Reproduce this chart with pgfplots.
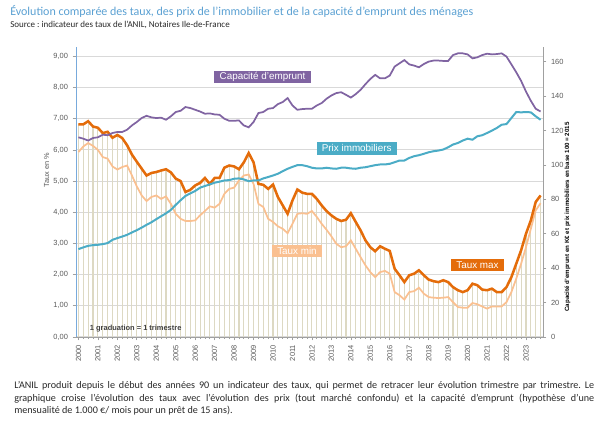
\documentclass[border=0pt]{standalone}
\usepackage{fontspec}
\setmainfont{Carlito}
\newfontfamily\lib{Liberation Sans}
\usepackage{pgfplots}
\usepackage{pgfplotstable}
\pgfplotsset{compat=1.18}
\definecolor{tmaxc}{RGB}{228,108,10}
\definecolor{tminc}{RGB}{250,192,144}
\definecolor{capc}{RGB}{128,100,162}
\definecolor{prixc}{RGB}{75,172,198}
\definecolor{beige}{RGB}{221,217,195}
\definecolor{gridc}{RGB}{217,217,217}
\definecolor{axblue}{RGB}{120,170,220}
\definecolor{titlec}{RGB}{90,160,210}
\definecolor{tickc}{RGB}{89,89,89}
\definecolor{axgray}{RGB}{160,160,160}

\pgfplotstableread{
i tmax tmin
0 6.82 5.93
1 6.82 6.11
2 6.92 6.22
3 6.75 6.13
4 6.71 6.00
5 6.54 5.77
6 6.58 5.72
7 6.39 5.47
8 6.48 5.37
9 6.38 5.45
10 6.15 5.50
11 5.85 5.18
12 5.62 4.83
13 5.40 4.54
14 5.18 4.36
15 5.26 4.49
16 5.29 4.54
17 5.34 4.43
18 5.38 4.51
19 5.28 4.27
20 5.08 3.95
21 5.00 3.79
22 4.65 3.72
23 4.72 3.72
24 4.86 3.74
25 4.94 3.90
26 5.10 4.04
27 4.91 4.19
28 5.10 4.15
29 5.10 4.27
30 5.43 4.59
31 5.50 4.75
32 5.47 4.79
33 5.38 5.02
34 5.60 5.18
35 5.90 5.21
36 5.60 4.91
37 4.91 4.27
38 4.88 4.17
39 4.75 3.79
40 4.89 3.69
41 4.49 3.55
42 4.22 3.47
43 3.95 3.33
44 4.38 3.63
45 4.73 3.95
46 4.63 3.97
47 4.59 3.95
48 4.59 4.04
49 4.43 3.85
50 4.22 3.63
51 4.04 3.44
52 3.90 3.23
53 3.79 2.99
54 3.72 2.88
55 3.76 2.91
56 3.97 3.10
57 3.69 2.83
58 3.42 2.56
59 3.10 2.30
60 2.88 2.08
61 2.75 1.92
62 2.91 2.08
63 2.83 2.12
64 2.76 2.03
65 2.19 1.44
66 1.98 1.34
67 1.76 1.20
68 1.98 1.44
69 2.03 1.47
70 2.14 1.58
71 1.98 1.39
72 1.84 1.28
73 1.79 1.26
74 1.76 1.25
75 1.82 1.26
76 1.76 1.28
77 1.60 1.12
78 1.50 0.96
79 1.44 0.94
80 1.50 0.94
81 1.71 1.09
82 1.66 1.05
83 1.52 0.98
84 1.50 0.91
85 1.55 0.98
86 1.44 0.98
87 1.44 0.98
88 1.60 1.12
89 1.92 1.44
90 2.35 1.87
91 2.78 2.35
92 3.31 2.88
93 3.74 3.47
94 4.33 4.06
95 4.54 4.29
}\taux

\pgfplotstableread{
i cap prix
0 116.1 51.1
1 115.3 52.1
2 114.2 53.0
3 115.7 53.4
4 116.1 53.6
5 117.6 54.0
6 117.3 54.6
7 118.6 56.5
8 119.2 57.5
9 119.2 58.4
10 120.5 59.4
11 123.0 60.8
12 125.0 62.1
13 127.3 63.6
14 128.6 65.2
15 127.7 66.7
16 127.3 68.5
17 127.5 70.2
18 126.3 71.9
19 128.3 73.9
20 130.8 76.8
21 131.5 79.5
22 133.7 82.0
23 133.1 83.5
24 132.1 84.9
25 131.1 86.8
26 129.8 87.8
27 130.0 88.7
28 129.4 89.7
29 129.2 90.3
30 126.9 91.0
31 125.7 91.2
32 125.7 92.0
33 125.9 92.2
34 123.0 91.6
35 121.9 90.6
36 125.0 91.0
37 130.2 91.0
38 130.8 92.2
39 132.7 93.0
40 133.1 93.9
41 135.4 94.9
42 136.6 96.4
43 138.9 97.8
44 134.6 98.9
45 132.1 99.9
46 132.5 99.9
47 132.7 99.3
48 132.7 98.4
49 134.6 98.0
50 136.0 98.0
51 138.5 98.4
52 140.4 98.0
53 141.8 97.8
54 142.3 98.4
55 140.8 98.4
56 139.2 98.0
57 141.2 97.8
58 143.7 98.4
59 147.0 98.7
60 150.0 99.3
61 152.4 99.9
62 150.4 100.3
63 150.4 100.3
64 152.0 100.7
65 157.2 101.6
66 159.1 102.6
67 161.0 102.6
68 158.5 104.1
69 157.8 105.1
70 156.8 105.7
71 158.7 106.5
72 160.1 107.4
73 160.7 108.0
74 160.7 108.4
75 160.5 109.0
76 160.5 110.3
77 163.9 111.9
78 164.9 112.8
79 164.9 114.2
80 164.3 115.3
81 162.0 114.7
82 162.6 116.7
83 163.9 117.3
84 164.7 118.6
85 164.3 120.0
86 164.5 121.5
87 164.9 123.4
88 163.0 123.8
89 158.5 127.3
90 153.9 130.8
91 148.9 130.6
92 142.7 130.8
93 137.3 130.6
94 132.7 128.3
95 131.1 126.3
}\capprix

\begin{document}
\frenchspacing
\begin{tikzpicture}
\path[use as bounding box] (0,0) rectangle (453.75pt,318pt);
\tikzset{lbl/.style={inner xsep=4pt, inner ysep=0pt, minimum height=9.5pt, text=white,
  font=\lib\fontsize{7.4}{8}\selectfont}}
\pgfplotsset{common/.style={
  at={(57pt,65.25pt)}, anchor=south west, scale only axis,
  width=350.25pt, height=217.5pt, xmin=-0.5, xmax=95.5,
  tick align=outside, major tick length=2.5pt, minor tick length=1.5pt,
  tick style={axgray, line width=0.5pt},
  /pgf/number format/assume math mode=true,
  ticklabel style={font=\lib\fontsize{5.6}{6}\selectfont, text=tickc},
}}
\begin{axis}[common,
  ymin=0, ymax=9.3,
  axis x line*=bottom, axis y line*=left,
  x axis line style={draw=axgray, -}, y axis line style={draw=axblue, line width=0.6pt, -},
  xtick={0,4,...,92},
  xticklabels={2000,2001,2002,2003,2004,2005,2006,2007,2008,2009,2010,2011,2012,2013,2014,2015,2016,2017,2018,2019,2020,2021,2022,2023},
  minor xtick={0,1,...,95},
  xticklabel style={rotate=90, anchor=east},
  ytick={0,1,...,9},
  yticklabel={\pgfmathprintnumber[fixed,fixed zerofill,precision=2,use comma]{\tick}},
  ymajorgrids, grid style={gridc, line width=0.75pt},
]
\addplot[ycomb, draw=beige, line width=0.8pt, no markers] table[x=i,y=tmax]{\taux};
\addplot[tminc, line width=1.3pt, no markers] table[x=i,y=tmin]{\taux};
\addplot[tmaxc, line width=1.9pt, no markers] table[x=i,y=tmax]{\taux};
\end{axis}
\begin{axis}[common,
  ymin=0, ymax=168.6,
  axis x line=none, axis y line*=right,
  y axis line style={draw=axgray, -},
  ytick={0,20,...,160},
]
\addplot[capc, line width=1.3pt, no markers] table[x=i,y=cap]{\capprix};
\addplot[prixc, line width=1.5pt, no markers] table[x=i,y=prix]{\capprix};
\node[lbl, fill=capc] at (axis cs:37.84,151.2) {Capacité d’emprunt};
\node[lbl, fill=prixc] at (axis cs:57.2,109.7) {Prix immobiliers};
\node[lbl, fill=tminc] at (axis cs:44.93,50) {Taux min};
\node[lbl, fill=tmaxc] at (axis cs:82.03,41.9) {Taux max};
\node[inner sep=0, text={rgb,255:red,64;green,64;blue,64}, font=\lib\bfseries\fontsize{5.6}{6}\selectfont] at (axis cs:11.77,4.8) {1 graduation = 1 trimestre};
\end{axis}
\node[rotate=90, inner sep=0, text=tickc, font=\lib\fontsize{5.5}{6}\selectfont] at (35pt,190.5pt) {Taux en \%};
\node[rotate=90, inner sep=0, text=black, font=\lib\bfseries\fontsize{4.6}{5}\selectfont] at (425.6pt,155.25pt) {Capacité d’emprunt en K€ et prix immobiliers en base 100 = 2015};
\node[anchor=base west, inner sep=0, text=titlec, font=\fontsize{9.0}{11}\selectfont] at (7.5pt,306pt) {Évolution comparée des taux, des prix de l’immobilier et de la capacité d’emprunt des ménages};
\node[anchor=base west, inner sep=0, text={rgb,255:red,40;green,40;blue,40}, font=\fontsize{6.75}{8}\selectfont] at (7.5pt,297.5pt) {Source : indicateur des taux de l’ANIL, Notaires Ile-de-France};
\node[anchor=base west, inner sep=0, text={rgb,255:red,40;green,40;blue,40}] at (10.5pt,26.75pt) {\parbox[t]{435pt}{\fontsize{7.6}{9.5}\selectfont L’ANIL produit depuis le début des années 90 un indicateur des taux, qui permet de retracer leur évolution trimestre par trimestre. Le\linebreak graphique croise l’évolution des taux avec l’évolution des prix (tout marché confondu) et la capacité d’emprunt (hypothèse d’une\linebreak mensualité de 1.000 €/ mois pour un prêt de 15 ans).}};
\end{tikzpicture}
\end{document}
